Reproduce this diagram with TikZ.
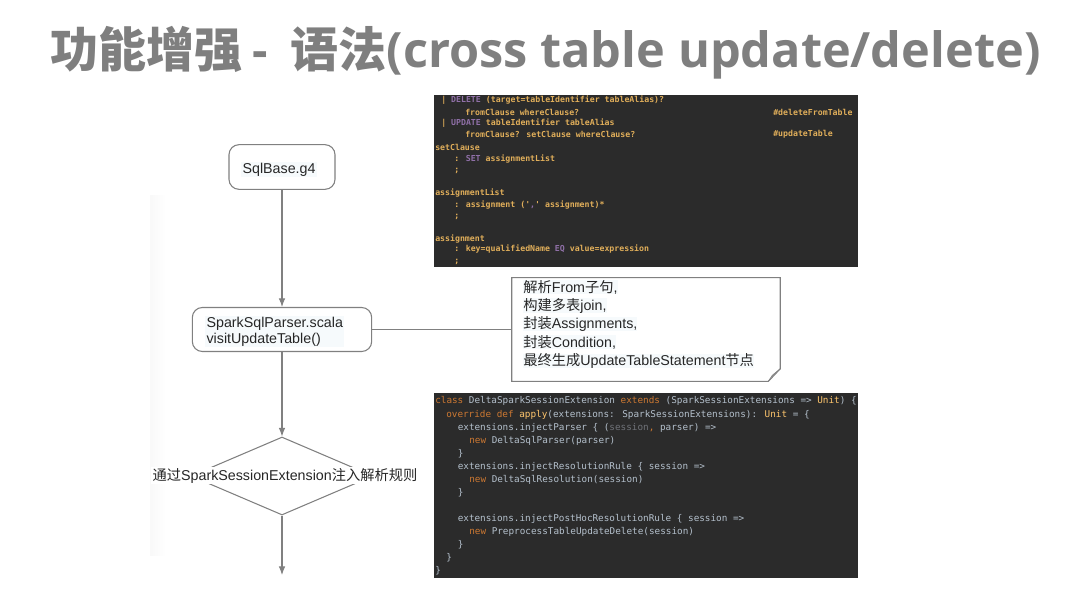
\documentclass[tikz,border=0pt]{standalone}
\usepackage{fontspec}
\setmainfont{Liberation Sans}
\newfontfamily\cjk{Noto Sans CJK SC}
\newfontfamily\titlefont{Open Sans}
\newfontfamily\codefont{DejaVu Sans Mono}
\usetikzlibrary{shapes.geometric,arrows.meta}

\definecolor{titlegray}{HTML}{7F7F7F}
\definecolor{linegray}{HTML}{808080}
\definecolor{panelbg}{HTML}{2B2B2B}
\definecolor{grammartext}{HTML}{E0AE5A}
\definecolor{grammarkey}{HTML}{9070A8}
\definecolor{scalatext}{HTML}{B4C0CC}
\definecolor{scalakey}{HTML}{CC7832}
\definecolor{scalafun}{HTML}{FFC66D}
\definecolor{scalamute}{HTML}{6F7278}
\definecolor{textbg}{HTML}{F6FAFC}

\newcommand{\zh}[1]{{\cjk #1}}
\newcommand{\gkw}[1]{\textcolor{grammarkey}{#1}}
\newcommand{\skw}[1]{\textcolor{scalakey}{#1}}

\tikzstyle{flowbox}=[
    draw=linegray,
    fill=white,
    line width=0.8pt,
    rounded corners=7.5pt,
    inner sep=0pt,
  ]
\tikzstyle{flowtext}=[
    fill=textbg,
    inner sep=1pt,
    text=black!85,
    align=left,
    font=\fontsize{10.7pt}{12pt}\selectfont,
  ]
\tikzstyle{flow}=[
    -{Latex[length=6.5pt,width=5pt]},
    draw=linegray,
    line width=0.8pt,
  ]
\tikzstyle{panel}=[
    fill=panelbg,
    inner sep=0pt,
    minimum width=318pt,
  ]
\tikzstyle{grammarline}=[
    anchor=west,
    inner sep=0pt,
    text=grammartext,
    font=\codefont\bfseries\fontsize{6.17pt}{7pt}\selectfont,
  ]
\tikzstyle{scalaline}=[
    anchor=west,
    inner sep=0pt,
    text=scalatext,
    font=\codefont\fontsize{7pt}{8pt}\selectfont,
  ]

\begin{document}
\begin{tikzpicture}[x=0.75pt,y=-0.75pt]
      \useasboundingbox (0,0) rectangle (1080,608);
      \shade[left color=black!2.5, right color=white] (150,195) rectangle (166,555);
      \node[anchor=west,inner sep=0pt,text=titlegray,font=\bfseries\fontsize{36pt}{40pt}\selectfont] (title) at (50,53)
        {{\cjk 功能增强}\titlefont\hspace{8pt}-\hspace{16.75pt}{\cjk 语法}\fontsize{36.5pt}{40pt}\selectfont(cross table update/delete)};

      % flow chart
      \node[flowbox,minimum width=79.5pt,minimum height=33.5pt] (sqlbase) at (282,167) {};
      \node[flowtext,anchor=west] (sqlbasetext) at (241,169.5) {SqlBase.g4};
      \node[flowbox,minimum width=134.5pt,minimum height=33pt] (parser) at (282,329.5) {};
      \node[flowtext,anchor=west] (parsertext) at (205,331.5) {SparkSqlParser.scala\\visitUpdateTable()};
      \node[draw=linegray,line width=0.8pt,shape=diamond,aspect=2.33,inner sep=0pt,minimum width=136.5pt,minimum height=58.5pt] (inject) at (282,476) {};
      \node[flowtext,fill=white] (injecttext) at (285,475.5) {\zh{通过}SparkSessionExtension\zh{注入解析规则}};
      \coordinate (flowend) at (282,575);
      \draw[flow] (sqlbase) -- (parser);
      \draw[flow] (parser) -- (inject);
      \draw[flow] (inject) -- (flowend);

      % note
      \node[minimum width=201pt,minimum height=77.5pt,inner sep=0pt] (note) at (646,329.5) {};
      \draw[draw=linegray,line width=0.8pt] (note.north west) -- (note.north east) -- ([yshift=9.5pt]note.south east) -- ([xshift=-9pt]note.south east) -- (note.south west) -- cycle;
      \draw[draw=linegray,line width=0.6pt] ([yshift=9.5pt]note.south east) -- ([xshift=-6pt,yshift=4.5pt]note.south east) -- ([xshift=-9pt]note.south east);
      \draw[draw=linegray,line width=0.8pt] (parser) -- (note);
      \foreach \y/\txt [count=\i] in {292/{\zh{解析}From\zh{子句},},
                                      310/{\zh{构建多表}join,},
                                      328.5/{\zh{封装}Assignments,},
                                      347/{\zh{封装}Condition,},
                                      365.5/{\zh{最终生成}UpdateTableStatement\zh{节点}}} {%
        \node[flowtext,anchor=base west,inner sep=0pt] (notetext\i) at (523,\y) {\txt};
      }

      % grammar panel
      \node[panel,minimum height=129pt] (grammar) at (646,181) {};
      \foreach \x/\y/\txt [count=\i] in {441/100.5/{| \gkw{DELETE} (target=tableIdentifier tableAlias)?},
                                         465/112/{fromClause whereClause?},
                                         773/112/{\#deleteFromTable},
                                         441/123.5/{| \gkw{UPDATE} tableIdentifier tableAlias},
                                         465/134.5/{fromClause? setClause whereClause?},
                                         773/134.5/{\#updateTable},
                                         435/147.5/{setClause},
                                         454/159/{: \gkw{SET} assignmentList},
                                         454/171/{;},
                                         435/192.5/{assignmentList},
                                         454/204.5/{: assignment ('\textcolor{grammarkey}{,}' assignment)*},
                                         454/216.5/{;},
                                         435/238.5/{assignment},
                                         454/249.5/{: key=qualifiedName \gkw{EQ} value=expression},
                                         454/261.5/{;}} {%
        \node[grammarline] (gline\i) at (\x,\y) {\txt};
      }

      % scala panel
      \node[panel,minimum height=138.75pt] (scala) at (646,485.5) {};
      \foreach \x/\y/\txt [count=\i] in {435/401/{\skw{class} DeltaSparkSessionExtension \skw{extends} (SparkSessionExtensions => \textcolor{scalafun}{Unit}) \{},
                                         446/414.5/{\skw{override def} \textcolor{scalafun}{apply}(extensions: SparkSessionExtensions): \textcolor{scalafun}{Unit} = \{},
                                         457.5/427.5/{extensions.injectParser \{ (\textcolor{scalamute}{session}\skw{,} parser) =>},
                                         469/440.5/{\skw{new} DeltaSqlParser(parser)},
                                         457.5/453.5/{\}},
                                         457.5/466.5/{extensions.injectResolutionRule \{ session =>},
                                         469/479.5/{\skw{new} DeltaSqlResolution(session)},
                                         457.5/492.5/{\}},
                                         457.5/518.5/{extensions.injectPostHocResolutionRule \{ session =>},
                                         469/531.5/{\skw{new} PreprocessTableUpdateDelete(session)},
                                         457.5/544.5/{\}},
                                         446/557.5/{\}},
                                         435/570.5/{\}}} {%
        \node[scalaline] (sline\i) at (\x,\y) {\txt};
      }
    \end{tikzpicture}
\end{document}
